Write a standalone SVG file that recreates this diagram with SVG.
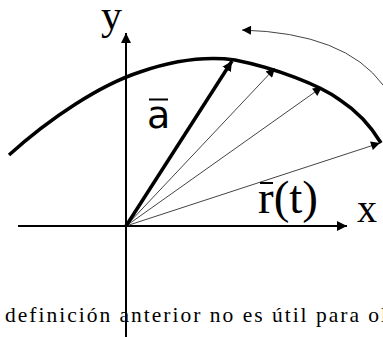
<svg xmlns="http://www.w3.org/2000/svg" width="383" height="337" viewBox="0 0 383 337">
<style>
.axis{stroke:#000;stroke-width:2;fill:none}
.thin{stroke:#444;stroke-width:1;fill:none}
.thick{stroke:#000;stroke-width:3.5;fill:none}
.curve{stroke:#000;stroke-width:3.5;fill:none;stroke-linejoin:round}
.serif{font-family:"Liberation Serif","Times New Roman",serif;fill:#000}
.sans{font-family:"DejaVu Sans",sans-serif;fill:#000}
</style>
<defs>
<marker id="ah" viewBox="0 0 10 10" refX="10" refY="5" markerWidth="10" markerHeight="10" markerUnits="userSpaceOnUse" orient="auto"><path d="M0,0 L10,5 L0,10 Z" fill="#000"/></marker>
<marker id="ahs" viewBox="0 0 10 10" refX="10" refY="5" markerWidth="11" markerHeight="9" markerUnits="userSpaceOnUse" orient="auto"><path d="M0,0 L10,5 L0,10 Z" fill="#000"/></marker>
</defs>
<text class="serif" x="5" y="322" font-size="21.5" letter-spacing="2">definición anterior no es útil para ol</text>
<g id="curve"><path class="curve" d="M9,155 C50,118 100,85 140,72 C175,60 205,56 235,60 C275,68 320,85 340,100 C360,113 372,128 381,143"/></g>
<g id="connectors">
<line class="axis" x1="126" y1="337" x2="126" y2="33" marker-end="url(#ah)"/>
<line class="axis" x1="18" y1="226" x2="347" y2="226" marker-end="url(#ah)"/>
<line class="thin" x1="126" y1="226" x2="275" y2="68" marker-end="url(#ahs)"/>
<line class="thin" x1="126" y1="226" x2="322" y2="87" marker-end="url(#ahs)"/>
<line class="thin" x1="126" y1="226" x2="380" y2="143" marker-end="url(#ahs)"/>
<line class="thick" x1="126" y1="226" x2="232" y2="61" marker-end="url(#ah)"/>
<path class="thin" d="M383,85 Q345,33 242,30" marker-end="url(#ahs)"/>
</g>
<g id="labels">
<text class="serif" x="101" y="29" font-size="42">y</text>
<text class="serif" x="357" y="222" font-size="40">x</text>
<text class="sans" x="147" y="128" font-size="38">a</text>
<line x1="149" y1="99.5" x2="168" y2="99.5" stroke="#000" stroke-width="2"/>
<text class="serif" x="258" y="213" font-size="47">r(t)</text>
<line x1="260" y1="183" x2="273" y2="183" stroke="#000" stroke-width="2"/>
</g>
</svg>
